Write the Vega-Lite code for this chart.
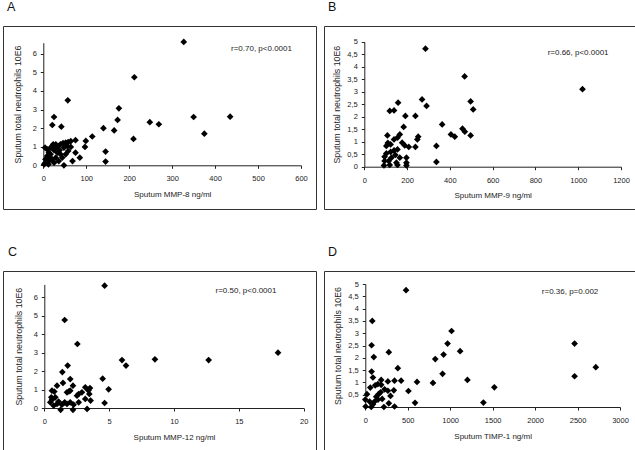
{
  "$schema": "https://vega.github.io/schema/vega-lite/v6.json",
  "background": "white",
  "padding": {"left": 2, "top": 0, "right": 0, "bottom": 0},
  "spacing": 35,
  "datasets": {
    "A": [
      {"x": 327, "y": 6.64}, {"x": 212, "y": 4.74}, {"x": 57, "y": 3.5}, {"x": 25, "y": 2.6}, {"x": 21, "y": 2.17},
      {"x": 42, "y": 2.08}, {"x": 176, "y": 3.07}, {"x": 173, "y": 2.44}, {"x": 140, "y": 2.0}, {"x": 165, "y": 1.88},
      {"x": 248, "y": 2.32}, {"x": 269, "y": 2.21}, {"x": 350, "y": 2.6}, {"x": 435, "y": 2.62}, {"x": 375, "y": 1.7},
      {"x": 210, "y": 1.42}, {"x": 114, "y": 1.55}, {"x": 99, "y": 1.31}, {"x": 97, "y": 0.99}, {"x": 75, "y": 1.35},
      {"x": 75, "y": 0.68}, {"x": 85, "y": 0.41}, {"x": 68, "y": 0.23}, {"x": 145, "y": 0.74}, {"x": 145, "y": 0.2},
      {"x": 48, "y": 0.0}, {"x": 5, "y": 0.32}, {"x": 9, "y": 0.5}, {"x": 13, "y": 0.68}, {"x": 17, "y": 0.95},
      {"x": 23, "y": 1.13}, {"x": 29, "y": 1.13}, {"x": 35, "y": 1.04}, {"x": 40, "y": 1.13}, {"x": 46, "y": 1.2},
      {"x": 52, "y": 1.22}, {"x": 58, "y": 1.25}, {"x": 64, "y": 1.3}, {"x": 5, "y": 0.14}, {"x": 13, "y": 0.23},
      {"x": 21, "y": 0.32}, {"x": 29, "y": 0.41}, {"x": 33, "y": 0.68}, {"x": 38, "y": 0.81}, {"x": 25, "y": 0.81},
      {"x": 17, "y": 0.59}, {"x": 9, "y": 0.86}, {"x": 4, "y": 0.95}, {"x": 36, "y": 0.23}, {"x": 44, "y": 0.41},
      {"x": 52, "y": 0.59}, {"x": 58, "y": 0.77}, {"x": 64, "y": 0.99}, {"x": 2, "y": 0.05}, {"x": 12, "y": 0.05},
      {"x": 25, "y": 0.14}, {"x": 56, "y": 1.04}, {"x": 48, "y": 0.95}, {"x": 20, "y": 1.0}, {"x": 30, "y": 0.95},
      {"x": 15, "y": 0.4}, {"x": 40, "y": 0.6}
    ],
    "B": [
      {"x": 286, "y": 4.72}, {"x": 469, "y": 3.61}, {"x": 1020, "y": 3.1}, {"x": 270, "y": 2.69}, {"x": 291, "y": 2.43},
      {"x": 497, "y": 2.61}, {"x": 509, "y": 2.29}, {"x": 158, "y": 2.56}, {"x": 119, "y": 2.23}, {"x": 139, "y": 2.25},
      {"x": 192, "y": 2.03}, {"x": 239, "y": 2.03}, {"x": 364, "y": 1.69}, {"x": 405, "y": 1.29}, {"x": 423, "y": 1.2},
      {"x": 459, "y": 1.52}, {"x": 470, "y": 1.4}, {"x": 497, "y": 1.25}, {"x": 184, "y": 1.59}, {"x": 166, "y": 1.29},
      {"x": 252, "y": 1.2}, {"x": 248, "y": 1.09}, {"x": 108, "y": 1.25}, {"x": 123, "y": 0.89}, {"x": 139, "y": 1.09},
      {"x": 155, "y": 1.16}, {"x": 177, "y": 0.96}, {"x": 189, "y": 0.85}, {"x": 208, "y": 0.79}, {"x": 239, "y": 0.79},
      {"x": 337, "y": 0.83}, {"x": 337, "y": 0.19}, {"x": 103, "y": 0.53}, {"x": 95, "y": 0.4}, {"x": 123, "y": 0.59},
      {"x": 139, "y": 0.65}, {"x": 155, "y": 0.69}, {"x": 145, "y": 0.47}, {"x": 127, "y": 0.36}, {"x": 114, "y": 0.23},
      {"x": 95, "y": 0.23}, {"x": 92, "y": 0.05}, {"x": 119, "y": 0.07}, {"x": 150, "y": 0.16}, {"x": 155, "y": 0.07},
      {"x": 197, "y": 0.36}, {"x": 197, "y": 0.16}, {"x": 197, "y": 0.05}, {"x": 103, "y": 0.83}, {"x": 166, "y": 0.36},
      {"x": 110, "y": 0.95}
    ],
    "C": [
      {"x": 4.65, "y": 6.63}, {"x": 1.57, "y": 4.77}, {"x": 2.55, "y": 3.47}, {"x": 5.99, "y": 2.6}, {"x": 6.3, "y": 2.3},
      {"x": 8.53, "y": 2.64}, {"x": 12.67, "y": 2.6}, {"x": 18.02, "y": 3.0}, {"x": 4.5, "y": 1.59}, {"x": 4.96, "y": 1.01},
      {"x": 4.65, "y": 0.27}, {"x": 1.8, "y": 2.3}, {"x": 1.39, "y": 1.95}, {"x": 1.44, "y": 1.36}, {"x": 2.0, "y": 1.57},
      {"x": 2.21, "y": 1.21}, {"x": 0.98, "y": 1.21}, {"x": 0.59, "y": 0.94}, {"x": 0.77, "y": 0.89}, {"x": 1.75, "y": 0.85},
      {"x": 2.0, "y": 0.94}, {"x": 2.9, "y": 0.85}, {"x": 3.16, "y": 1.12}, {"x": 3.52, "y": 1.08}, {"x": 3.47, "y": 0.76},
      {"x": 3.57, "y": 0.4}, {"x": 2.65, "y": 0.76}, {"x": 2.52, "y": 0.67}, {"x": 3.16, "y": 0.49}, {"x": 2.0, "y": 0.31},
      {"x": 2.26, "y": 0.18}, {"x": 1.57, "y": 0.31}, {"x": 1.36, "y": 0.18}, {"x": 1.26, "y": -0.1}, {"x": 2.21, "y": -0.1},
      {"x": 3.3, "y": -0.05}, {"x": 0.46, "y": 0.31}, {"x": 0.54, "y": 0.58}, {"x": 0.85, "y": 0.58}, {"x": 0.98, "y": 0.22},
      {"x": 0.72, "y": 0.13}, {"x": 1.75, "y": 0.22}, {"x": 2.65, "y": 0.31}, {"x": 1.1, "y": 0.35}, {"x": 0.6, "y": 0.45},
      {"x": 1.9, "y": 0.9}, {"x": 3.4, "y": 0.95}
    ],
    "D": [
      {"x": 480, "y": 4.75}, {"x": 82, "y": 3.5}, {"x": 74, "y": 2.51}, {"x": 100, "y": 2.03}, {"x": 277, "y": 2.23},
      {"x": 383, "y": 1.58}, {"x": 74, "y": 1.44}, {"x": 90, "y": 1.2}, {"x": 59, "y": 0.79}, {"x": 117, "y": 0.88},
      {"x": 148, "y": 0.93}, {"x": 187, "y": 1.1}, {"x": 187, "y": 0.9}, {"x": 266, "y": 1.04}, {"x": 344, "y": 1.07},
      {"x": 422, "y": 1.07}, {"x": 336, "y": 0.68}, {"x": 266, "y": 0.66}, {"x": 297, "y": 0.45}, {"x": 277, "y": 0.15},
      {"x": 344, "y": 0.02}, {"x": 508, "y": 0.65}, {"x": 586, "y": 0.17}, {"x": 609, "y": 1.02}, {"x": 797, "y": 0.98},
      {"x": 824, "y": 1.95}, {"x": 910, "y": 1.35}, {"x": 922, "y": 2.13}, {"x": 969, "y": 2.58}, {"x": 1016, "y": 3.09},
      {"x": 1117, "y": 2.27}, {"x": 1203, "y": 1.1}, {"x": 1391, "y": 0.18}, {"x": 1520, "y": 0.8}, {"x": 2465, "y": 2.58},
      {"x": 2465, "y": 1.25}, {"x": 2715, "y": 1.62}, {"x": 0, "y": 0.3}, {"x": 20, "y": 0.52}, {"x": 4, "y": 0.02},
      {"x": 70, "y": 0.0}, {"x": 51, "y": 0.22}, {"x": 109, "y": 0.22}, {"x": 129, "y": 0.42}, {"x": 156, "y": 0.52},
      {"x": 180, "y": 0.6}, {"x": 199, "y": 0.33}, {"x": 219, "y": 0.0}, {"x": 90, "y": 0.11}, {"x": 227, "y": 0.72},
      {"x": 150, "y": 0.3}
    ]
  },
  "vconcat": [
    {
      "spacing": 6,
      "hconcat": [
        {
          "width": 313, "height": 183,
          "title": {"text": "A", "dx": 4},
          "encoding": {
            "x": {"field": "x", "type": "quantitative",
              "scale": {"domain": [0, 600], "range": [40.3, 298], "nice": false, "zero": false},
              "axis": {"title": "Sputum MMP-8 ng/ml", "values": [0, 100, 200, 300, 400, 500, 600], "format": "d", "offset": -43.7}},
            "y": {"field": "y", "type": "quantitative",
              "scale": {"domain": [0, 6.6], "range": [139.3, 16.7], "nice": false, "zero": false},
              "axis": {"title": "Sputum total neutrophils 10E6", "values": [0, 1, 2, 3, 4, 5, 6], "format": "d", "offset": -40.3, "titlePadding": 10}}
          },
          "layer": [
            {"data": {"name": "A"}, "mark": {"type": "point", "shape": "diamond", "filled": true, "size": 45, "color": "#000", "opacity": 1}},
            {"data": {"values": [{"x": 437, "y": 6.26, "label": "r=0.70, p<0.0001"}]},
             "mark": {"type": "text", "align": "left", "baseline": "middle", "fontSize": 8, "color": "#222"},
             "encoding": {"text": {"field": "label"}}}
          ]
        },
        {
          "width": 313, "height": 183,
          "title": {"text": "B", "dx": 4},
          "encoding": {
            "x": {"field": "x", "type": "quantitative",
              "scale": {"domain": [0, 1200], "range": [40.3, 297], "nice": false, "zero": false},
              "axis": {"title": "Sputum MMP-9 ng/ml", "values": [0, 200, 400, 600, 800, 1000, 1200], "format": "d", "offset": -42.3}},
            "y": {"field": "y", "type": "quantitative",
              "scale": {"domain": [0, 5], "range": [140.7, 15.7], "nice": false, "zero": false},
              "axis": {"title": "Sputum total neutrophils 10E6", "values": [0, 0.5, 1, 1.5, 2, 2.5, 3, 3.5, 4, 4.5, 5], "format": "~g", "labelExpr": "replace(datum.label, '.', ',')", "offset": -40.3, "titlePadding": 5}}
          },
          "layer": [
            {"data": {"name": "B"}, "mark": {"type": "point", "shape": "diamond", "filled": true, "size": 45, "color": "#000", "opacity": 1}},
            {"data": {"values": [{"x": 857, "y": 4.56, "label": "r=0.66, p<0.0001"}]},
             "mark": {"type": "text", "align": "left", "baseline": "middle", "fontSize": 8, "color": "#222"},
             "encoding": {"text": {"field": "label"}}}
          ]
        }
      ]
    },
    {
      "spacing": 6,
      "hconcat": [
        {
          "width": 313, "height": 183,
          "title": {"text": "C", "dx": 5},
          "encoding": {
            "x": {"field": "x", "type": "quantitative",
              "scale": {"domain": [0, 20], "range": [41.3, 300.7], "nice": false, "zero": false},
              "axis": {"title": "Sputum MMP-12 ng/ml", "values": [0, 5, 10, 15, 20], "format": "d", "offset": -46}},
            "y": {"field": "y", "type": "quantitative",
              "scale": {"domain": [0, 6.7], "range": [137, 13.4], "nice": false, "zero": false},
              "axis": {"title": "Sputum total neutrophils 10E6", "values": [0, 1, 2, 3, 4, 5, 6], "format": "d", "offset": -41.3, "titlePadding": 10}}
          },
          "layer": [
            {"data": {"name": "C"}, "mark": {"type": "point", "shape": "diamond", "filled": true, "size": 45, "color": "#000", "opacity": 1}},
            {"data": {"values": [{"x": 13.2, "y": 6.36, "label": "r=0.50, p<0.0001"}]},
             "mark": {"type": "text", "align": "left", "baseline": "middle", "fontSize": 8, "color": "#222"},
             "encoding": {"text": {"field": "label"}}}
          ]
        },
        {
          "width": 313, "height": 183,
          "title": {"text": "D", "dx": 4},
          "encoding": {
            "x": {"field": "x", "type": "quantitative",
              "scale": {"domain": [0, 3000], "range": [41.3, 296], "nice": false, "zero": false},
              "axis": {"title": "Sputum TIMP-1 ng/ml", "values": [0, 500, 1000, 1500, 2000, 2500, 3000], "format": "d", "offset": -47}},
            "y": {"field": "y", "type": "quantitative",
              "scale": {"domain": [0, 5], "range": [136, 13], "nice": false, "zero": false},
              "axis": {"title": "Sputum total neutrophils 10E6", "values": [0.5, 1, 1.5, 2, 2.5, 3, 3.5, 4, 4.5, 5], "format": "~g", "labelExpr": "replace(datum.label, '.', ',')", "offset": -41.3, "titlePadding": 5}}
          },
          "layer": [
            {"data": {"name": "D"}, "mark": {"type": "point", "shape": "diamond", "filled": true, "size": 45, "color": "#000", "opacity": 1}},
            {"data": {"values": [{"x": 2079, "y": 4.68, "label": "r=0.36, p=0.002"}]},
             "mark": {"type": "text", "align": "left", "baseline": "middle", "fontSize": 8, "color": "#222"},
             "encoding": {"text": {"field": "label"}}}
          ]
        }
      ]
    }
  ],
  "config": {
    "font": "Liberation Sans",
    "view": {"stroke": "#333", "strokeWidth": 1},
    "title": {"anchor": "start", "frame": "group", "fontSize": 12.5, "fontWeight": "normal", "font": "Liberation Sans", "offset": 13, "baseline": "alphabetic", "color": "#111"},
    "axis": {
      "grid": false,
      "domainColor": "#222", "domainWidth": 1,
      "tickColor": "#222", "tickSize": 3, "tickWidth": 1,
      "labelFont": "Liberation Sans", "labelFontSize": 7.5, "labelColor": "#222",
      "titleFont": "Liberation Sans", "titleFontSize": 8, "titleFontWeight": "normal", "titleColor": "#222"
    },
    "axisX": {"labelPadding": 6.5, "titlePadding": 8, "labelFlush": false, "labelOverlap": false},
    "axisY": {"labelPadding": 4, "titleFontSize": 8.8, "labelFlush": false, "labelOverlap": false}
  }
}
